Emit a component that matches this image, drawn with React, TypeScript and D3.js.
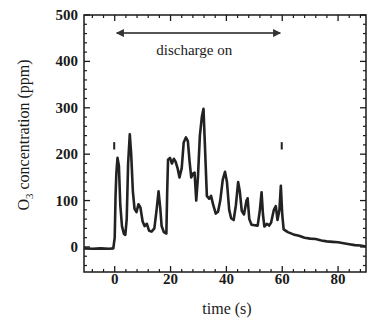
import React from "react";
import * as d3 from "d3";

const timeS = [-11, -8, -5, -2, -0.5, 0, 0.3, 0.6, 1, 1.5, 2, 2.6, 3.3, 3.8, 4.3, 4.8, 5.4, 5.9, 6.5, 7.1, 7.8, 8.5, 9.2, 10, 10.7, 11.5, 12.3, 13.2, 14.2, 15, 15.7, 16.3, 16.8, 17.6, 18.5, 18.8, 19.1, 19.8, 20.5, 21.2, 21.8, 22.5, 23.2, 24, 24.7, 25.5, 26.2, 26.8, 27.4, 28, 28.6, 29.2, 29.8, 30.5, 31.2, 31.8, 32.3, 33, 33.8, 34.5, 35.3, 36.2, 37, 37.8, 38.7, 39.5, 40.2, 41, 41.7, 42.6, 43.4, 44.2, 44.8, 45.5, 46.3, 47.2, 47.6, 48.2, 49, 50, 51.2, 52, 52.6, 53.1, 53.6, 54.5, 55.3, 56, 57, 57.7, 58.3, 59, 59.5, 60, 60.5, 62, 64, 66, 68, 70, 72, 74, 76, 78, 80, 82, 84, 86, 88, 90];
const ozonePpm = [-3, -4, -3, -4, -3, 20, 110, 160, 192, 175, 90, 45, 28, 26, 60, 180, 243, 200, 120, 82, 75, 92, 85, 55, 45, 50, 35, 33, 40, 80, 120, 85, 45, 32, 29, 120, 188, 192, 180, 190, 184, 170, 150, 170, 225, 236, 228, 185, 150, 158, 160, 100, 150, 240, 280, 298, 220, 110, 104, 110, 90, 72, 76, 100, 145, 162, 140, 80, 62, 58, 90, 140, 120, 78, 70, 100, 105, 60, 48, 47, 46, 80, 118, 70, 44, 50, 46, 52, 80, 88, 58, 80, 132, 70, 38, 32, 27, 24, 20, 18, 17, 14, 12, 11, 10, 8, 6, 4, 3, 1];

const xTicks = [0, 20, 40, 60, 80];
const yTicks = [0, 100, 200, 300, 400, 500];
const markerTimes = [0, 60];
const dischargeStart = 0;
const dischargeEnd = 60;
const dischargeLabel = "discharge on";

export default function App() {
  const W = 374, H = 322;
  const L = 84, R = 366, T = 15, B = 272;
  const x = d3.scaleLinear().domain([-11, 90]).range([L, R]);
  const y = d3.scaleLinear().domain([-54, 500]).range([B, T]);
  const pts = timeS.map((t, i) => [t, ozonePpm[i]] as [number, number]);
  const line = d3.line<[number, number]>().x(d => x(d[0])).y(d => y(d[1])).curve(d3.curveLinear);

  const xMinor = d3.range(-8, 90, 4).filter(v => v % 20 !== 0);
  const yMinor = d3.range(-40, 500, 20).filter(v => v % 100 !== 0);
  const ff = "Liberation Serif, Times New Roman, DejaVu Serif, serif";
  const col = "#1a1a1a";
  const arrowY = y(461);
  const ts = { fontFamily: ff } as React.CSSProperties;

  return (
    <svg width={W} height={H} style={{ position: "absolute", left: 0, top: 0, background: "#fff" }}>
      <defs>
        <marker id="ah" viewBox="0 0 10 10" refX="9" refY="5" markerWidth="5" markerHeight="4" orient="auto-start-reverse">
          <path d="M0,0 L10,5 L0,10 z" fill="#333" />
        </marker>
      </defs>
      <rect x={L} y={T} width={R - L} height={B - T} fill="none" stroke={col} strokeWidth={1.5} />
      {xTicks.map(v => (
        <g key={"xt" + v}>
          <line x1={x(v)} x2={x(v)} y1={B} y2={B - 6} stroke={col} strokeWidth={1.3} />
          <line x1={x(v)} x2={x(v)} y1={T} y2={T + 6} stroke={col} strokeWidth={1.3} />
          <text x={x(v)} y={284} textAnchor="middle" fontSize={15} fontWeight="bold" fill={col} style={ts}>{v}</text>
        </g>
      ))}
      {xMinor.map(v => (
        <g key={"xm" + v}>
          <line x1={x(v)} x2={x(v)} y1={B} y2={B - 3} stroke={col} strokeWidth={1.2} />
          <line x1={x(v)} x2={x(v)} y1={T} y2={T + 3} stroke={col} strokeWidth={1.2} />
        </g>
      ))}
      {yTicks.map(v => (
        <g key={"yt" + v}>
          <line x1={L} x2={L + 6} y1={y(v)} y2={y(v)} stroke={col} strokeWidth={1.3} />
          <line x1={R} x2={R - 6} y1={y(v)} y2={y(v)} stroke={col} strokeWidth={1.3} />
          <text x={78} y={y(v) + 5} textAnchor="end" fontSize={15} fontWeight="bold" fill={col} style={ts}>{v}</text>
        </g>
      ))}
      {yMinor.map(v => (
        <g key={"ym" + v}>
          <line x1={L} x2={L + 3} y1={y(v)} y2={y(v)} stroke={col} strokeWidth={1.2} />
          <line x1={R} x2={R - 3} y1={y(v)} y2={y(v)} stroke={col} strokeWidth={1.2} />
        </g>
      ))}
      <path d={line(pts) || ""} fill="none" stroke="#222" strokeWidth={2.6} strokeLinejoin="round" />
      {markerTimes.map(t => (
        <line key={"mk" + t} x1={x(t) - 0.5} x2={x(t) - 0.5} y1={y(226)} y2={y(210)} stroke="#222" strokeWidth={2} />
      ))}
      <line x1={x(dischargeStart) + 2} x2={x(dischargeEnd) - 2} y1={arrowY} y2={arrowY} stroke="#555" strokeWidth={2}
        markerStart="url(#ah)" markerEnd="url(#ah)" />
      <text x={x(28.5)} y={55} textAnchor="middle" fontSize={15} fill={col} style={ts}>{dischargeLabel}</text>
      <text x={227} y={314} textAnchor="middle" fontSize={16} fill={col} style={ts}>time (s)</text>
      <text transform={`translate(29,135) rotate(-90)`} textAnchor="middle" fontSize={16} fill={col} style={ts}>
        O<tspan fontSize={11} dy={4}>3</tspan><tspan dy={-4}> concentration (ppm)</tspan>
      </text>
    </svg>
  );
}
